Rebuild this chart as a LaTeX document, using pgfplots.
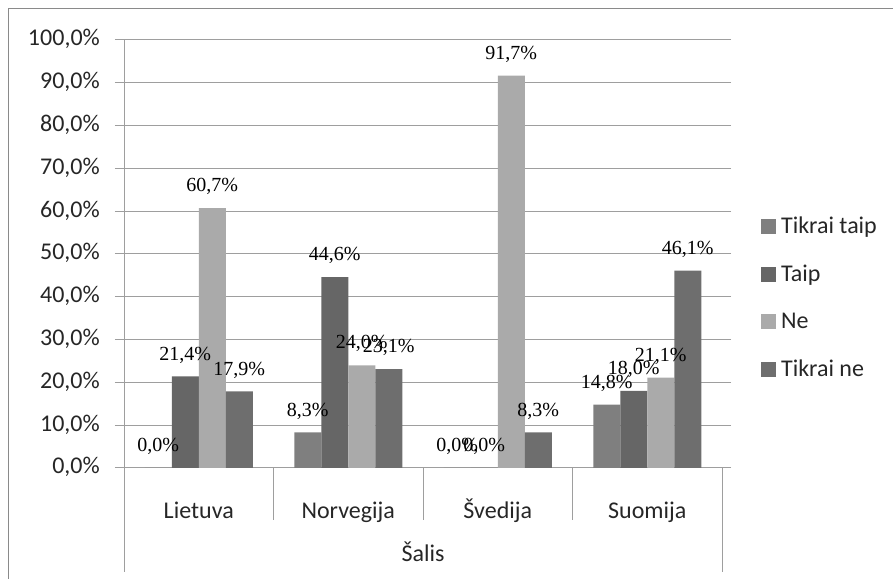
\documentclass[border=0pt]{standalone}
\usepackage{pgfplots}
\pgfplotsset{compat=1.18}
\usepackage{fontspec}
\setmainfont{Carlito}
\newfontfamily\labfont{Liberation Serif}
\definecolor{cTT}{HTML}{7F7F7F}
\definecolor{cT}{HTML}{666666}
\definecolor{cN}{HTML}{AAAAAA}
\definecolor{cTN}{HTML}{6E6E6E}
\definecolor{gridc}{HTML}{9E9E9E}
\definecolor{framec}{HTML}{8A8A8A}
\pgfplotsset{sqleg/.style={legend image code/.code={\fill[##1,draw=none] (0bp,-7.5bp) rectangle (15bp,7.5bp);}}}
\begin{document}
\begin{tikzpicture}[x=1bp,y=1bp]
\useasboundingbox (0,0) rectangle (893,579);
\draw[framec, line width=1.5bp] (8.5,-5) -- (8.5,570.5) -- (900,570.5);
\begin{axis}[
  at={(124bp,111bp)}, anchor=south west,
  scale only axis, width=598bp, height=428bp,
  xmin=-0.5, xmax=3.5, ymin=0, ymax=100,
  ybar=0pt, bar width=0.1806,
  axis line style={draw=none},
  ymajorgrids, grid style={gridc, line width=1bp},
  ytick={0,10,...,100},
  yticklabel={\pgfmathprintnumber[fixed,fixed zerofill,precision=1,use comma,assume math mode=true]{\tick}\%},
  ytick style={draw=gridc, line width=1bp},
  tick align=outside, major tick length=9bp,
  xtick={0,1,2,3}, xticklabels={Lietuva,Norvegija,Švedija,Suomija},
  xtick style={draw=none},
  ticklabel style={font=\fontsize{24bp}{28bp}\selectfont, text=black!85},
  xticklabel style={anchor=base, yshift=-42bp},
  yticklabel style={anchor=base east, xshift=-15bp, yshift=-6bp, inner sep=0pt},
  xlabel={Šalis},
  xlabel style={at={(axis description cs:0.5,0)}, anchor=base, yshift=-94bp, font=\fontsize{24bp}{28bp}\selectfont, text=black!85},
  nodes near coords={\pgfmathprintnumber[fixed,fixed zerofill,precision=1,use comma,assume math mode=true]{\pgfplotspointmeta}\%},
  every node near coord/.append style={font=\labfont\fontsize{20bp}{20bp}\selectfont, text=black, anchor=south, inner sep=0pt, yshift=13bp},
  legend style={at={(1.065,0.398)}, anchor=west, draw=none, fill=none, inner sep=0pt,
    font=\fontsize{24bp}{28bp}\selectfont, text=black!85,
    column sep=5bp, row sep=30bp, nodes={inner sep=0pt}},
  legend cell align=left,
  clip=false,
]
\addplot[fill=cTT, draw=none, sqleg] coordinates {(0,0) (1,8.3) (2,0) (3,14.8)};
\addplot[fill=cT, draw=none, sqleg] coordinates {(0,21.4) (1,44.6) (2,0) (3,18.0)};
\addplot[fill=cN, draw=none, sqleg] coordinates {(0,60.7) (1,24.0) (2,91.7) (3,21.1)};
\addplot[fill=cTN, draw=none, sqleg] coordinates {(0,17.9) (1,23.1) (2,8.3) (3,46.1)};
\legend{Tikrai taip, Taip, Ne, Tikrai ne}
\end{axis}
\draw[gridc, line width=1bp] (124,539) -- (124,7);
\draw[gridc, line width=1bp] (722,111) -- (722,7);
\draw[gridc, line width=1bp] (273.5,111) -- (273.5,59);
\draw[gridc, line width=1bp] (423,111) -- (423,59);
\draw[gridc, line width=1bp] (572.5,111) -- (572.5,59);
\end{tikzpicture}
\end{document}
